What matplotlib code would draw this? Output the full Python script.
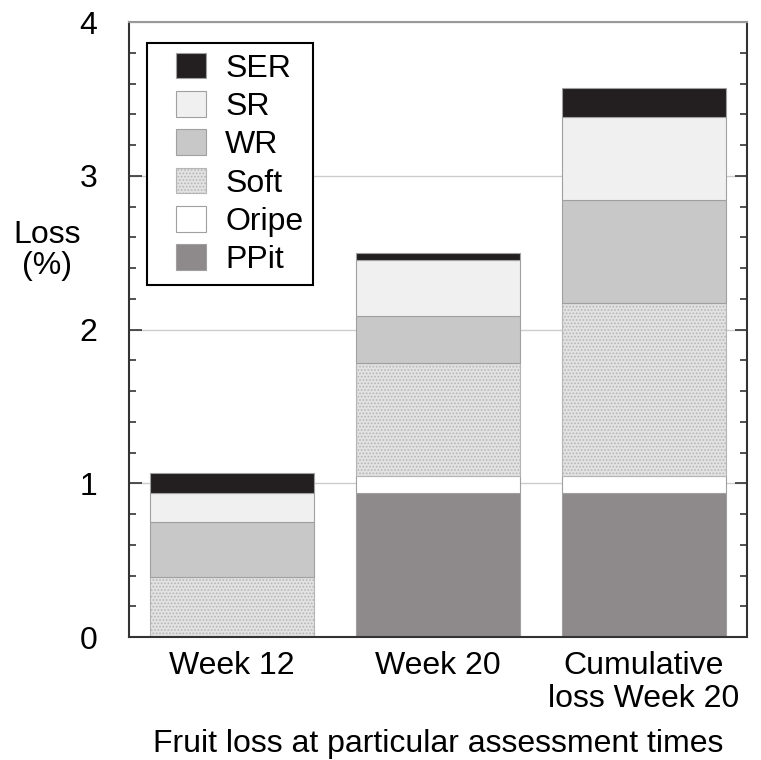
import numpy as np
import matplotlib.pyplot as plt
from matplotlib.patches import Rectangle
from matplotlib.legend_handler import HandlerPatch

# categories and stacked loss components (%)
categories = ['Week 12', 'Week 20', 'Cumulative\nloss Week 20']
ppit = [0.0, 0.935, 0.935]
oripe = [0.0, 0.115, 0.115]
soft = [0.39, 0.73, 1.12]
wr = [0.36, 0.31, 0.67]
sr = [0.19, 0.36, 0.54]
ser = [0.13, 0.05, 0.19]

plt.rcParams['font.family'] = ['Liberation Sans', 'DejaVu Sans']
plt.rcParams['font.size'] = 23
plt.rcParams['hatch.linewidth'] = 0.8

fig = plt.figure(figsize=(7.61, 7.60), dpi=100)
ax = fig.add_axes([0.1695, 0.1618, 0.8121, 0.8092])

x = np.arange(len(categories))
w = 0.8
edge = '#a0a0a0'

# stacking order bottom -> top, with style per layer
layers = [
    ('PPit', ppit, '#8e898a', None),
    ('Oripe', oripe, '#ffffff', None),
    ('Soft', soft, '#e2e2e2', '.....'),
    ('WR', wr, '#c8c8c8', None),
    ('SR', sr, '#f0f0f0', None),
    ('SER', ser, '#231f20', None),
]

bottom = np.zeros(len(categories))
handles = {}
for name, vals, col, hatch in layers:
    vals = np.array(vals)
    b = ax.bar(x, vals, w, bottom=bottom, color=col, edgecolor='#b5b5b5' if hatch else edge,
               linewidth=0.8, hatch=hatch, zorder=2, label=name)
    handles[name] = b
    bottom = bottom + vals

ax.set_xlim(-0.5, 2.5)
ax.set_ylim(0, 4)
ax.set_yticks([0, 1, 2, 3, 4])
ax.set_yticks(np.arange(0, 4.01, 0.2), minor=True)
ax.yaxis.grid(True, which='major', color='#cccccc', linewidth=1.0, zorder=0)
ax.set_axisbelow(True)

ax.tick_params(axis='y', which='both', direction='in', right=True, left=True,
               color='#333333', width=1.2)
ax.tick_params(axis='y', which='major', length=9, pad=23)
ax.tick_params(axis='y', which='minor', length=5)
ax.tick_params(axis='x', length=0, pad=10)
ax.set_xticks(x)
ax.set_xticklabels(categories, linespacing=1.15)

for s in ax.spines.values():
    s.set_color('#333333')
    s.set_linewidth(1.5)
ax.spines['top'].set_color('#999999')

ax.set_ylabel('Loss\n(%)', rotation=0, ha='center', va='center', linespacing=1.05)
ax.yaxis.set_label_coords(-0.132, 0.628)
ax.set_xlabel('Fruit loss at particular assessment times')
ax.xaxis.set_label_coords(0.5, -0.150)


# legend swatch sits at the right end of a wider handle box (extra left inset)
def swatch(legend, orig_handle, xdescent, ydescent, width, height, fontsize):
    sw = 0.95 * fontsize
    return Rectangle((-xdescent + width - sw, -ydescent), sw, height)


def copy_style(legend_handle, orig_handle):
    legend_handle.update_from(orig_handle.patches[0])


order = ['SER', 'SR', 'WR', 'Soft', 'Oripe', 'PPit']
hmap = {handles[n]: HandlerPatch(patch_func=swatch, update_func=copy_style) for n in order}
leg = ax.legend([handles[n] for n in order], order, loc='upper left',
                bbox_to_anchor=(0.029, 0.966), borderaxespad=0, fancybox=False,
                edgecolor='black', framealpha=1, handlelength=1.55, handleheight=0.87,
                labelspacing=0.23, handletextpad=0.6, borderpad=0.3, fontsize=23,
                handler_map=hmap)
leg.get_frame().set_linewidth(1.5)

fig.savefig('out.png', dpi=100)
